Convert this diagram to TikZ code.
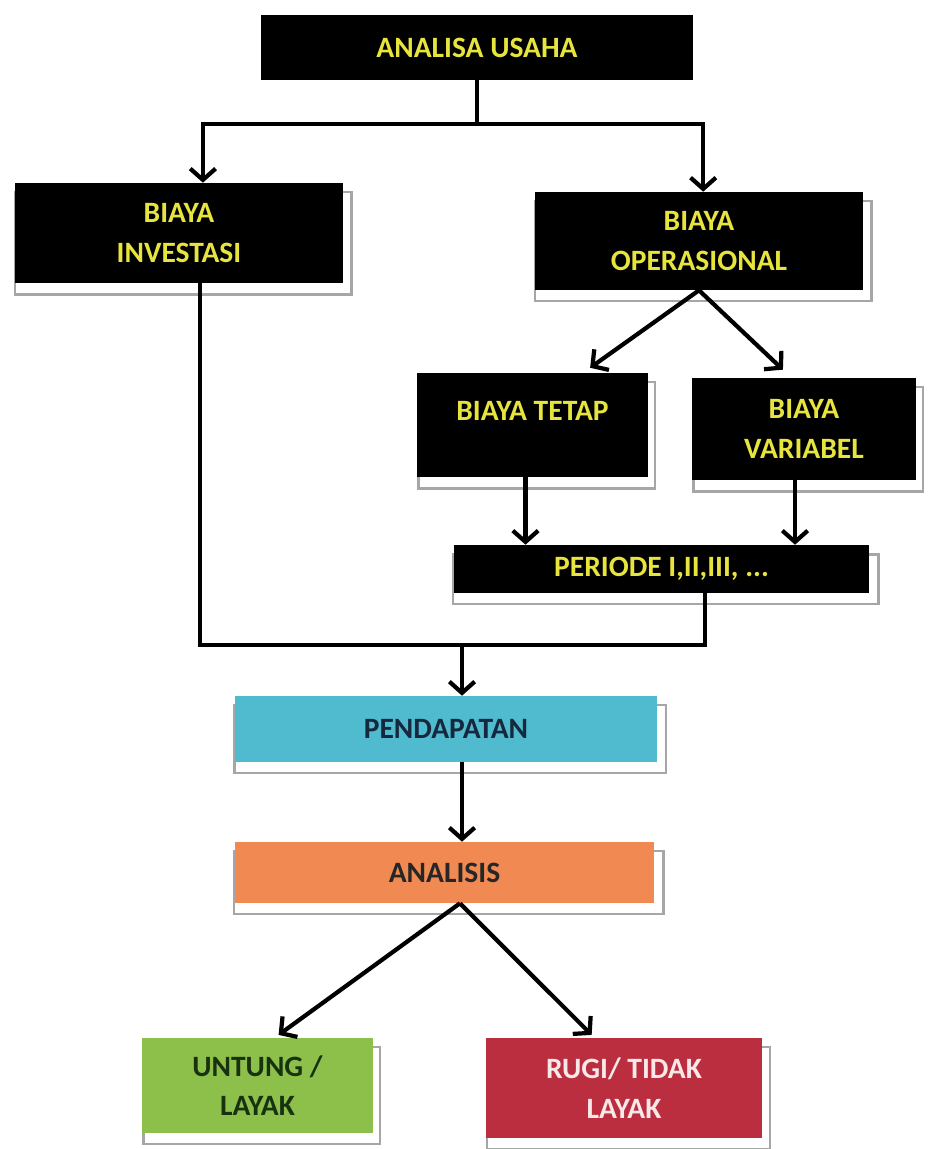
\documentclass[tikz,border=0pt]{standalone}
\usepackage{fontspec}
\setmainfont{Carlito}
\usetikzlibrary{arrows.meta,shadows}

\definecolor{boxyellow}{RGB}{232,228,62}
\definecolor{boxcyan}{RGB}{80,187,207}
\definecolor{boxorange}{RGB}{241,138,82}
\definecolor{boxgreen}{RGB}{141,192,74}
\definecolor{boxred}{RGB}{186,46,64}
\definecolor{textnavy}{RGB}{22,40,62}
\definecolor{textgreen}{RGB}{24,50,16}
\definecolor{textpink}{RGB}{248,232,232}

\begin{document}
\begin{tikzpicture}[x=0.025cm, y=-0.025cm]
		\tikzstyle{plain}=[rectangle, inner sep=0pt, align=center, font=\bfseries\fontsize{21}{28}\selectfont]
		\tikzstyle{main}=[plain, general shadow={fill=white, draw=black!35, line width=1.6pt, shadow xshift=3pt, shadow yshift=-7pt, shadow scale=1.025}]
		\tikzstyle{dark}=[fill=black, text=boxyellow]
		\tikzstyle{connect}=[line width=3pt]
		\tikzstyle{arrow}=[connect, -{Straight Barb[length=8pt, width=18pt]}]
		\useasboundingbox (0,0) rectangle (928,1149);

		\node[plain, dark, minimum width=10.8cm, minimum height=1.625cm]  (usaha)       at (477,47.5)   {ANALISA USAHA};
		\node[main, dark, minimum width=8.2cm, minimum height=2.5cm]      (investasi)   at (179,233)    {BIAYA\\INVESTASI};
		\node[main, dark, minimum width=8.2cm, minimum height=2.45cm]     (operasional) at (699,241)    {BIAYA\\OPERASIONAL};
		\node[main, dark, minimum width=5.775cm, minimum height=2.6cm, text depth=0.7cm] (tetap) at (532.5,425) {BIAYA TETAP};
		\node[main, dark, minimum width=5.6cm, minimum height=2.55cm]     (variabel)    at (804,429)    {BIAYA\\VARIABEL};
		\node[main, dark, minimum width=10.375cm, minimum height=1.2cm]   (periode)     at (661.5,569)  {PERIODE I,II,III, ...};

		\node[main, fill=boxcyan, text=textnavy, minimum width=10.525cm, minimum height=1.65cm]    (pendapatan) at (446,729)    {PENDAPATAN};
		\node[main, fill=boxorange, text=black!85, minimum width=10.475cm, minimum height=1.525cm] (analisis)   at (444.5,872.5) {ANALISIS};
		\node[main, fill=boxgreen, text=textgreen, minimum width=5.775cm, minimum height=2.375cm]  (untung)     at (257.5,1085.5) {UNTUNG /\\LAYAK};
		\node[main, fill=boxred, text=textpink, minimum width=6.9cm, minimum height=2.5cm]         (rugi)       at (624,1088)   {RUGI/ TIDAK\\LAYAK};

		\coordinate (split) at (477,124);
		\coordinate (merge) at (462,645);

		\draw[connect] (usaha) -- (split);
		\draw[arrow] (split) -| ([xshift=17pt]investasi.north);
		\draw[arrow] (split) -| ([xshift=3pt]operasional.north);

		\path
		(operasional.south) edge [arrow] ([xshift=41pt, yshift=3.5pt]tetap.north)
		(operasional.south) edge [arrow] ([xshift=-15pt, yshift=5.7pt]variabel.north)
		;

		\draw[arrow] ([xshift=-5pt]tetap.south) -- ([xshift=-5pt]tetap.south |- periode.north);
		\draw[arrow] ([xshift=-6.4pt]variabel.south) -- ([xshift=-6.4pt]variabel.south |- periode.north);

		\draw[connect] ([xshift=15pt]investasi.south) |- (merge) -| ([xshift=31pt]periode.south);
		\draw[arrow] (merge) -- (pendapatan.north -| merge);
		\draw[arrow] (pendapatan.south -| merge) -- (analisis.north -| merge);

		\path
		([xshift=11pt]analisis.south) edge [arrow] ([xshift=15pt, yshift=2pt]untung.north)
		([xshift=11pt]analisis.south) edge [arrow] ([xshift=-23pt, yshift=2pt]rugi.north)
		;

\end{tikzpicture}
\end{document}
